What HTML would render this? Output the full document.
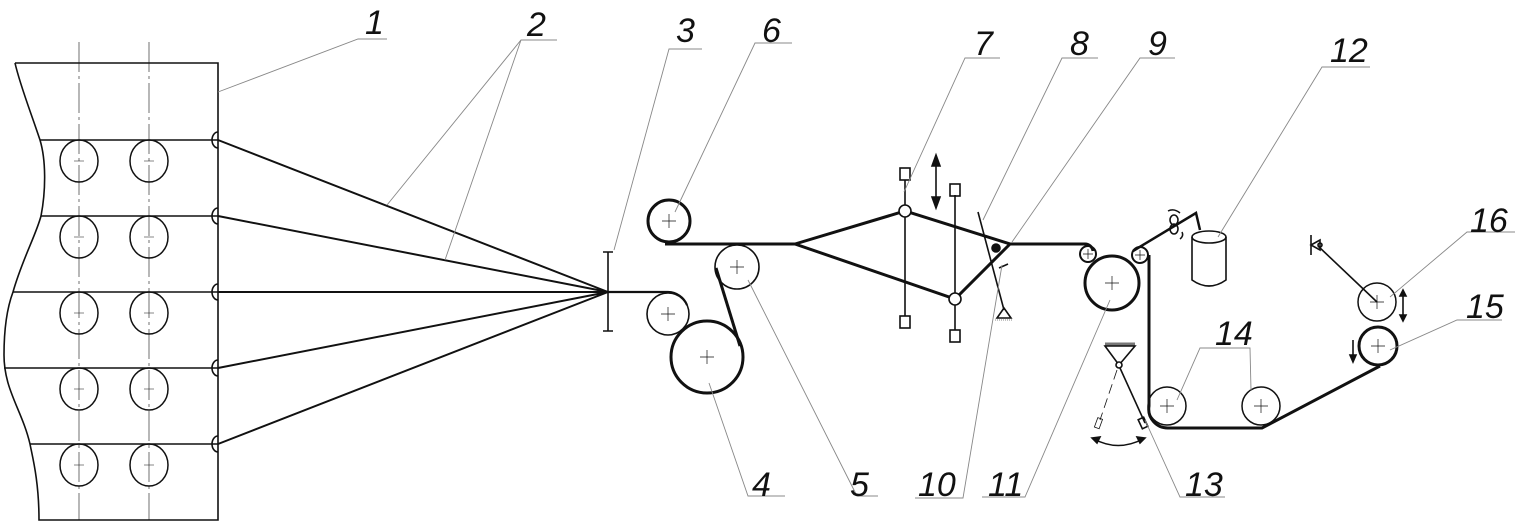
<!DOCTYPE html>
<html><head><meta charset="utf-8"><style>
html,body{margin:0;padding:0;background:#fff}
svg{display:block}
text{font-family:"Liberation Sans",sans-serif;font-style:italic;font-size:34px;fill:#111}
</style></head><body>
<svg width="1517" height="522" viewBox="0 0 1517 522" xmlns="http://www.w3.org/2000/svg">
<g fill="none" stroke="#111" stroke-width="1.6">
<!-- frame -->
<path d="M15,63 L218,63 L218,520 L39,520 C39,480 32,455 30,444 C22,410 4,390 4,355 C4,320 10,300 13,292 C22,260 36,235 41,216 C46,190 46,160 40,140 C30,110 20,85 15,63"/>
<path d="M40,140H218M41,216H218M13,292H218M4,368H218M30,444H218"/>
<g stroke-width="0.6" stroke-dasharray="30,4,3,4"><path d="M79,42V520M149,42V520"/></g>
<g stroke-width="1.5">
<ellipse cx="79" cy="161" rx="19" ry="21"/><ellipse cx="149" cy="161" rx="19" ry="21"/>
<ellipse cx="79" cy="237" rx="19" ry="21"/><ellipse cx="149" cy="237" rx="19" ry="21"/>
<ellipse cx="79" cy="313" rx="19" ry="21"/><ellipse cx="149" cy="313" rx="19" ry="21"/>
<ellipse cx="79" cy="389" rx="19" ry="21"/><ellipse cx="149" cy="389" rx="19" ry="21"/>
<ellipse cx="79" cy="465" rx="19" ry="21"/><ellipse cx="149" cy="465" rx="19" ry="21"/>
</g>
<g stroke-width="0.6"><path d="M74,161h10M144,161h10M74,237h10M144,237h10M74,313h10M144,313h10M74,389h10M144,389h10M74,465h10M144,465h10"/></g>
<path d="M218,132 a6,8 0 0 0 0,16M218,208 a6,8 0 0 0 0,16M218,284 a6,8 0 0 0 0,16M218,360 a6,8 0 0 0 0,16M218,436 a6,8 0 0 0 0,16"/>
<!-- yarns -->
<path d="M218,140L608,292M218,216L608,292M218,292L608,292M218,368L608,292M218,444L608,292" stroke-width="2"/>
<!-- guide 3 -->
<path d="M608,252V331M603,252h10M603,331h10"/>
<path d="M600,292H668 A21,21 0 0 1 687,305" stroke-width="2.2"/>
<circle cx="668" cy="314" r="21"/>
<circle cx="669" cy="221" r="21" stroke-width="3"/>
<circle cx="737" cy="267" r="22"/>
<circle cx="707" cy="357" r="36" stroke-width="3"/>
<path d="M716,268 L740,346" stroke-width="3"/>
<path d="M665,244H795" stroke-width="3"/>
<!-- diamond -->
<path d="M795,244L905,211L1010,244L955,299Z" stroke-width="3"/>
<path d="M905,180V316M955,195V330"/>
<rect x="900" y="168" width="10" height="12"/><rect x="900" y="316" width="10" height="12"/>
<rect x="950" y="184" width="10" height="12"/><rect x="950" y="330" width="10" height="12"/>
<circle cx="905" cy="211" r="6" fill="#fff"/><circle cx="955" cy="299" r="6" fill="#fff"/>
<path d="M936,160V203"/>
<path d="M932,166L936,155L940,166ZM932,197L936,208L940,197Z" fill="#111"/>
<!-- 8 -->
<path d="M978,212L1004,310"/>
<path d="M997,318L1004,308L1011,318Z"/><path d="M995,320h18" stroke-width="0.6" stroke-dasharray="1,1"/>
<circle cx="996" cy="248" r="4" fill="#111"/>
<path d="M999,268L1008,264"/>
<path d="M1010,244H1085 A8,8 0 0 1 1093,251" stroke-width="3"/>
<circle cx="1088" cy="254" r="8" stroke-width="2"/>
<circle cx="1112" cy="283" r="27" stroke-width="3"/>
<circle cx="1140" cy="255" r="8" stroke-width="2"/>
<path d="M1133,251 L1196,213 L1200,230" stroke-width="2.5"/>
<ellipse cx="1174" cy="220" rx="4" ry="5"/><ellipse cx="1174" cy="229" rx="4" ry="5"/>
<path d="M1168,211q6,-3 12,2M1182,232q2,4 -2,7" stroke-width="1.5"/>
<!-- cylinder 12 -->
<ellipse cx="1209" cy="237" rx="17" ry="6"/>
<path d="M1192,237V280 Q1209,292 1226,280V237"/>
<!-- main belt -->
<path d="M1149,255V406 A19,19 0 0 0 1168,428H1262 L1380,366" stroke-width="3"/>
<circle cx="1167" cy="406" r="19" stroke-width="1.5"/>
<circle cx="1261" cy="406" r="19" stroke-width="1.5"/>
<circle cx="1378" cy="346" r="19" stroke-width="3"/>
<circle cx="1377" cy="302" r="19" stroke-width="1.5"/>
<path d="M1318,246L1377,302"/>
<path d="M1311,235L1311,255M1311,245L1320,240L1320,250Z"/><circle cx="1320" cy="245" r="2"/>
<path d="M1403,293V318M1353,340V358"/>
<path d="M1400,296l3,-6l3,6ZM1400,315l3,6l3,-6ZM1350,355l3,7l3,-7Z" fill="#111"/>
<!-- 13 pendulum -->
<path d="M1105,344h30" stroke-width="3" stroke="#777"/>
<path d="M1105,346L1135,346L1119,365Z"/>
<circle cx="1119" cy="365" r="3" fill="#fff"/>
<path d="M1120,368L1145,423"/>
<rect x="1140" y="418" width="6" height="10" transform="rotate(-25 1143 423)"/>
<path d="M1117,370L1100,420" stroke-width="0.8" stroke-dasharray="10,5"/>
<rect x="1096" y="418" width="5" height="10" stroke-width="0.8" transform="rotate(20 1098 423)"/>
<path d="M1094,439 Q1118,452 1143,439" stroke-width="1.5"/>
<path d="M1092,438l8,-1l-3,6ZM1145,438l-8,-1l3,6Z" fill="#111"/>
</g>
<!-- centre crosses -->
<g stroke="#111" stroke-width="0.7" fill="none">
<path d="M662,221h14M669,214v14M661,314h14M668,307v14M730,267h14M737,260v14M700,357h14M707,350v14M1105,283h14M1112,276v14M1083,254h10M1088,249v10M1135,255h10M1140,250v10M1160,406h14M1167,399v14M1254,406h14M1261,399v14M1371,346h14M1378,339v14M1370,302h14M1377,295v14"/>
</g>
<!-- leaders -->
<g stroke="#888" stroke-width="0.9" fill="none">
<path d="M218,92L358,39H387"/>
<path d="M387,205L521,40H557M445,260L521,40"/>
<path d="M614,250L669,49H702"/>
<path d="M675,212L755,43H792"/>
<path d="M709,383L748,496H785"/>
<path d="M748,280L857,496H878"/>
<path d="M904,192L965,58H1000"/>
<path d="M983,220L1062,58H1098"/>
<path d="M1012,242L1140,58H1175"/>
<path d="M1002,265L963,498H915"/>
<path d="M1110,300L1025,497H982"/>
<path d="M1218,237L1322,67H1370"/>
<path d="M1177,400L1200,348H1250L1251,390"/>
<path d="M1390,350L1457,320H1502"/>
<path d="M1390,297L1467,232H1515"/>
<path d="M1145,420L1180,497H1225"/>
</g>
<text x="365" y="34">1</text>
<text x="527" y="36">2</text>
<text x="676" y="42">3</text>
<text x="762" y="42">6</text>
<text x="974" y="55">7</text>
<text x="1070" y="55">8</text>
<text x="1148" y="55">9</text>
<text x="1330" y="62">12</text>
<text x="1215" y="345">14</text>
<text x="1470" y="232">16</text>
<text x="1466" y="318">15</text>
<text x="752" y="496">4</text>
<text x="850" y="496">5</text>
<text x="918" y="496">10</text>
<text x="988" y="496">11</text>
<text x="1185" y="496">13</text>
</svg>
</body></html>
